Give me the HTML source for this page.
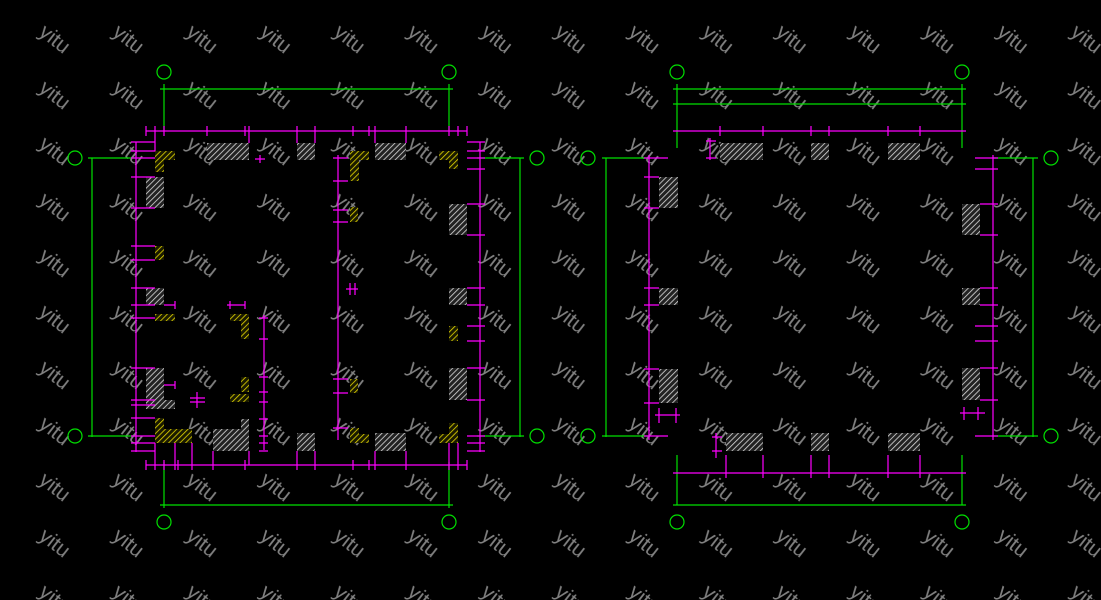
<!DOCTYPE html>
<html><head><meta charset="utf-8"><style>html,body{margin:0;padding:0;background:#000;}svg{display:block}</style></head>
<body>
<svg width="1101" height="600" viewBox="0 0 1101 600" xmlns="http://www.w3.org/2000/svg">
<defs>
<pattern id="wm" x="18" y="12" width="73.7" height="56" patternUnits="userSpaceOnUse">
<text x="0" y="0" transform="translate(36,28) rotate(38)" text-anchor="middle" dominant-baseline="middle" font-family="Liberation Sans, sans-serif" font-size="21" fill="#808080">yitu</text>
</pattern>
<pattern id="hg" width="4" height="4" patternUnits="userSpaceOnUse" patternTransform="rotate(45)"><rect width="4" height="4" fill="#222"/><line x1="0" y1="0" x2="0" y2="4" stroke="#ddd" stroke-width="1.6"/></pattern>
<pattern id="hy" width="4" height="4" patternUnits="userSpaceOnUse" patternTransform="rotate(45)"><rect width="4" height="4" fill="#1a1a00"/><line x1="0" y1="0" x2="0" y2="4" stroke="#e6d800" stroke-width="1.6"/></pattern>
</defs>
<rect width="1101" height="600" fill="#000"/>
<rect width="1101" height="600" fill="url(#wm)"/>

<!-- LEFT PLAN -->
<g fill="none" stroke="#00e000" stroke-width="1.2">
<circle cx="164" cy="72" r="7"/><circle cx="449" cy="72" r="7"/>
<circle cx="75" cy="158" r="7"/><circle cx="75" cy="436" r="7"/>
<circle cx="537" cy="158" r="7"/><circle cx="537" cy="436" r="7"/>
<circle cx="164" cy="522" r="7"/><circle cx="449" cy="522" r="7"/>
<path d="M160 89H453M164 84V130M449 84V130M92 158V437M88 158H135M88 436H135M520 158V437M477 158H524M477 436H524M160 505H453M164 462V508M449 462V508"/>
</g>
<g fill="url(#hg)">
<rect x="207" y="143" width="42" height="17"/><rect x="297" y="143" width="18" height="17"/><rect x="375" y="143" width="31" height="17"/>
<rect x="146" y="177" width="18" height="31"/><rect x="449" y="204" width="18" height="31"/><rect x="146" y="288" width="18" height="17"/>
<rect x="449" y="288" width="18" height="17"/><rect x="146" y="368" width="18" height="32"/><rect x="449" y="368" width="18" height="32"/>
<rect x="146" y="400" width="29" height="9"/>
<rect x="213" y="429" width="36" height="22"/><rect x="241" y="419" width="8" height="12"/><rect x="297" y="433" width="18" height="18"/><rect x="375" y="433" width="31" height="18"/>
</g>
<g fill="url(#hy)">
<path d="M155 151H175V160H164V172H155Z"/><rect x="350" y="151" width="19" height="9"/><rect x="350" y="160" width="9" height="21"/>
<path d="M439 151H458V169H449V160H439Z"/><rect x="155" y="246" width="9" height="14"/><rect x="350" y="207" width="8" height="15"/>
<rect x="155" y="314" width="20" height="7"/><path d="M230 314H249V339H241V321H230Z"/><rect x="449" y="326" width="9" height="15"/>
<rect x="241" y="377" width="8" height="15"/><rect x="230" y="394" width="19" height="8"/><rect x="350" y="379" width="8" height="14"/>
<path d="M155 418H164V429H192V443H155Z"/><path d="M350 428H359V434H369V443H350Z"/><path d="M449 423H458V443H439V434H449Z"/>
</g>
<g stroke="#ff00ff" stroke-width="1.2" fill="none">
<path d="M146 131H467M146 465H467M136 142V452M480 142V452M338 155V440M264 315V450"/>
<path d="M146 126V136M155 126V136M164 126V136M207 126V136M245 126V136M249 126V136M297 126V136M315 126V136M353 126V136M369 126V136M375 126V136M406 126V136M449 126V136M458 126V136M467 126V136M155 130V151M249 130V143M297 130V143M315 130V143M375 130V143M406 130V143"/>
<path d="M146 460V470M155 460V470M164 460V470M175 460V470M178 460V470M192 460V470M213 460V470M245 460V470M297 460V470M315 460V470M353 460V470M369 460V470M375 460V470M406 460V470M449 460V470M458 460V470M467 460V470M155 443V465M175 443V465M192 443V465M213 451V465M249 451V465M297 451V465M315 451V465M375 451V465M406 451V465M449 443V465M458 443V465"/>
<path d="M131 142H155M131 151H155M131 158H155M131 177H155M131 208H155M131 246H155M131 260H155M131 288H155M131 305H155M131 318H155M131 368H155M131 400H155M131 405H155M131 418H155M131 436H155M131 443H155M131 451H155"/>
<path d="M467 142H485M467 151H485M467 158H485M467 169H485M467 204H485M467 235H485M467 288H485M467 305H485M467 326H485M467 341H485M467 368H485M467 400H485M467 436H485M467 443H485M467 451H485"/>
<path d="M333 158H348M333 181H348M333 210H348M333 222H348M333 379H348M333 393H348M333 428H348M259 318H268M259 339H268M259 377H268M259 392H268M259 402H268M259 419H268M259 436H268M259 443H268M259 451H268"/>
<path d="M164 305H175M175 301V309M164 385H175M175 381V389M227 305H245M230 301V309M245 301V309M190 398H205M190 402H205M197 392V408M255 159H265M260 155V163M346 289H358M350 283V295M355 283V295"/>
</g>

<!-- RIGHT PLAN -->
<g fill="none" stroke="#00e000" stroke-width="1.2">
<circle cx="677" cy="72" r="7"/><circle cx="962" cy="72" r="7"/>
<circle cx="588" cy="158" r="7"/><circle cx="588" cy="436" r="7"/>
<circle cx="1051" cy="158" r="7"/><circle cx="1051" cy="436" r="7"/>
<circle cx="677" cy="522" r="7"/><circle cx="962" cy="522" r="7"/>
<path d="M673 89H966M673 104H966M677 84V148M962 84V148M606 158V437M602 158H650M602 436H650M1033 158V437M993 158H1038M993 436H1038M677 455V505M962 455V505M673 505H966"/>
</g>
<g fill="url(#hg)">
<rect x="720" y="143" width="43" height="17"/><rect x="811" y="143" width="18" height="17"/><rect x="888" y="143" width="32" height="17"/>
<rect x="659" y="177" width="19" height="31"/><rect x="659" y="288" width="19" height="17"/><rect x="659" y="369" width="19" height="34"/>
<rect x="962" y="204" width="18" height="31"/><rect x="962" y="288" width="18" height="17"/><rect x="962" y="368" width="18" height="32"/>
<rect x="726" y="433" width="37" height="18"/><rect x="811" y="433" width="18" height="18"/><rect x="888" y="433" width="32" height="18"/>
</g>
<g stroke="#ff00ff" stroke-width="1.2" fill="none">
<path d="M673 131H966M673 473H966M649 155V440M993 155V440"/>
<path d="M720 126V136M763 126V136M811 126V136M829 126V136M888 126V136M920 126V136M726 455V478M763 455V478M811 455V478M829 455V478M888 455V478M920 455V478"/>
<path d="M644 158H668M644 177H659M644 208H659M644 288H659M644 305H659M644 369H659M644 403H659M644 436H668M655 415H680M659 408V423M676 408V423"/>
<path d="M975 158H998M975 169H998M980 204H998M980 235H998M980 288H998M980 305H998M975 326H998M975 341H998M980 368H998M980 400H998M975 436H998M960 413H985M964 407V420M978 407V420"/>
<path d="M706 141H716M710 138V160M706 158H716M712 437H722M716 433V458M712 451H722"/>
</g>
</svg>
</body></html>
